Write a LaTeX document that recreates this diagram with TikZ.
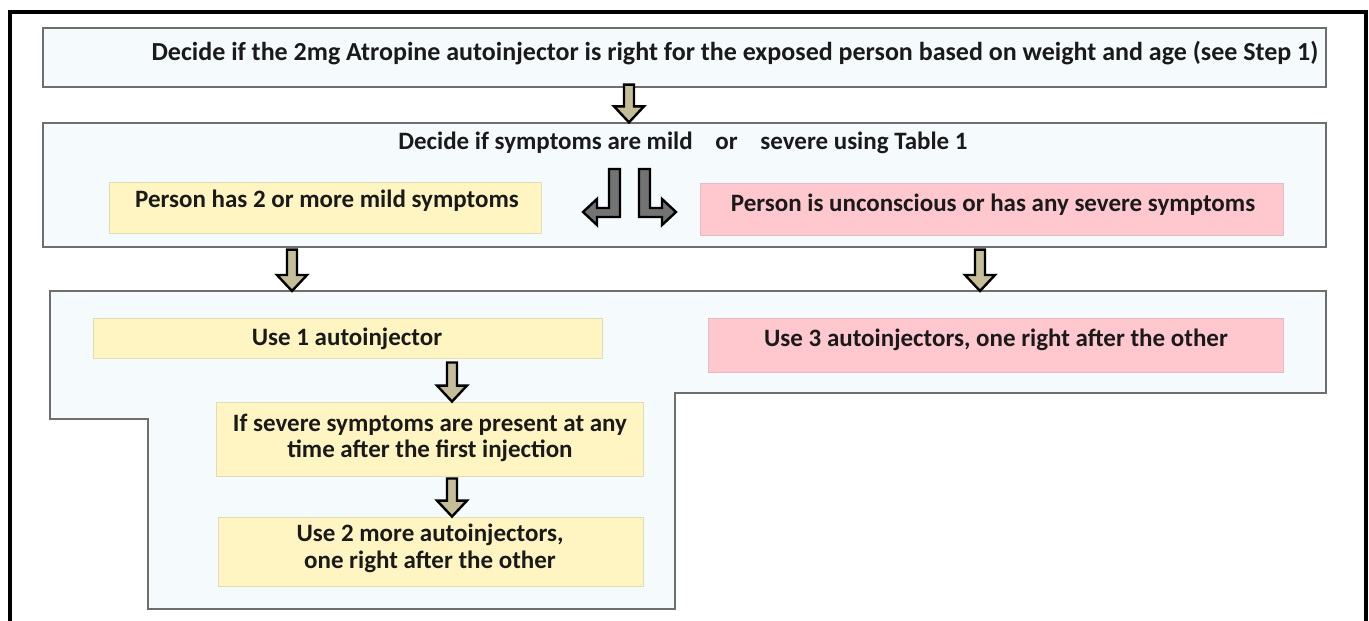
\documentclass[tikz,border=0pt]{standalone}
\usepackage{fontspec}
\setmainfont{Carlito}
\usetikzlibrary{calc}
\definecolor{bluefill}{HTML}{F5FAFC}
\definecolor{boxline}{HTML}{6E6E6E}
\definecolor{yelfill}{HTML}{FFF5C2}
\definecolor{yelline}{HTML}{E2DCB4}
\definecolor{pinkfill}{HTML}{FFC7CE}
\definecolor{pinkline}{HTML}{E6BAC0}
\definecolor{tanfill}{HTML}{C4BD97}
\definecolor{grayfill}{HTML}{737373}
\definecolor{txtcol}{HTML}{1A1A1A}
\tikzset{
  bluebox/.style={draw=boxline, fill=bluefill, line width=1.3pt, inner sep=0pt},
  yelbox/.style={draw=yelline, fill=yelfill, line width=0.9pt, inner sep=0pt},
  pinkbox/.style={draw=pinkline, fill=pinkfill, line width=0.9pt, inner sep=0pt},
  txt/.style={inner sep=0pt, text=txtcol, font=\fontsize{25}{26.5}\selectfont\bfseries, align=center},
  bigtxt/.style={txt, font=\fontsize{26}{28}\selectfont\bfseries},
  blk/.style={draw=black, fill=tanfill, line width=2.4pt, line join=miter},
  cornerblk/.style={draw=black, fill=grayfill, line width=2.4pt, line join=miter},
  frame/.style={draw=black, line width=3.5pt}
}
\newcommand\blockdown[2]{\path[blk] let \p1=#1, \p2=#2 in
  (\x1-5pt,\y1) -- (\x1+5pt,\y1) -- (\x1+5pt,\y2+16pt) -- (\x1+15pt,\y2+16pt) --
  (\x1,\y2) -- (\x1-15pt,\y2+16pt) -- (\x1-5pt,\y2+16pt) -- cycle;}
\begin{document}
\begin{tikzpicture}[x=1pt,y=-1pt]
\useasboundingbox (0,0) rectangle (1369,621);
% outer frame (open at the bottom)
\draw[frame] (10,625) -- (10,12) -- (1366,12) -- (1366,625);

% box 1
\node[bluebox, minimum width=1283pt, minimum height=59pt] (b1) at (684.5,57.5) {};
\node[bigtxt] (t1) at (735,53) {Decide if the 2mg Atropine autoinjector is right for the exposed person based on weight and age (see Step 1)};

% box 2
\node[bluebox, minimum width=1283pt, minimum height=124pt] (b2) at (684.5,185) {};
\node[txt] (t2) at (683,143) {Decide if symptoms are mild\hspace{17pt} or\hspace{17pt} severe using Table 1};
\node[yelbox, minimum width=432pt, minimum height=51pt] (y1) at (325,207.5) {};
\node[txt] (ty1) at (327,201) {Person has 2 or more mild symptoms};
\node[pinkbox, minimum width=583pt, minimum height=52pt] (p1) at (991.5,209) {};
\node[txt] (tp1) at (993,205) {Person is unconscious or has any severe symptoms};

% box 3 (L-shaped)
\coordinate (c1) at (50,291);
\coordinate (c2) at (1326,291);
\coordinate (c3) at (1326,393);
\coordinate (c4) at (675,393);
\coordinate (c5) at (675,609);
\coordinate (c6) at (148,609);
\coordinate (c7) at (148,419);
\coordinate (c8) at (50,419);
\draw[draw=boxline, fill=bluefill, line width=1.3pt] (c1) -- (c2) -- (c3) -- (c4) -- (c5) -- (c6) -- (c7) -- (c8) -- cycle;

\node[yelbox, minimum width=509pt, minimum height=40pt] (y2) at (347.5,338) {};
\node[txt] (ty2) at (347,339) {Use 1 autoinjector};
\node[pinkbox, minimum width=575pt, minimum height=54pt] (p2) at (995.5,345) {};
\node[txt] (tp2) at (996,340) {Use 3 autoinjectors, one right after the other};
\node[yelbox, minimum width=427pt, minimum height=74pt] (y3) at (429.5,439) {};
\node[txt] (ty3) at (430,438) {If severe symptoms are present at any\\time after the first injection};
\node[yelbox, minimum width=425pt, minimum height=69pt] (y4) at (430.5,551.5) {};
\node[txt] (ty4) at (430,548.5) {Use 2 more autoinjectors,\\one right after the other};

% block arrows (connectors)
\coordinate (ax1) at (629,0);
\coordinate (ax2) at (292,0);
\coordinate (ax3) at (980,0);
\coordinate (ax4) at (452,0);
\blockdown{($(b1.south -| ax1)+(0,-3)$)}{(b2.north -| ax1)}
\blockdown{($(b2.south -| ax2)+(0,2)$)}{(c1 -| ax2)}
\blockdown{($(b2.south -| ax3)+(0,2)$)}{(c1 -| ax3)}
\blockdown{($(y2.south -| ax4)+(0,4)$)}{(y3.north -| ax4)}
\blockdown{($(y3.south -| ax4)+(0,2)$)}{(y4.north -| ax4)}

% corner arrows
\path[cornerblk] (609,169) -- (620,169) -- (620,217) -- (597,217) -- (597,225) -- (583,212) -- (597,199) -- (597,208) -- (609,208) -- cycle;
\path[cornerblk] (650,169) -- (639,169) -- (639,217) -- (662,217) -- (662,225) -- (676,212) -- (662,199) -- (662,208) -- (650,208) -- cycle;
\end{tikzpicture}
\end{document}
